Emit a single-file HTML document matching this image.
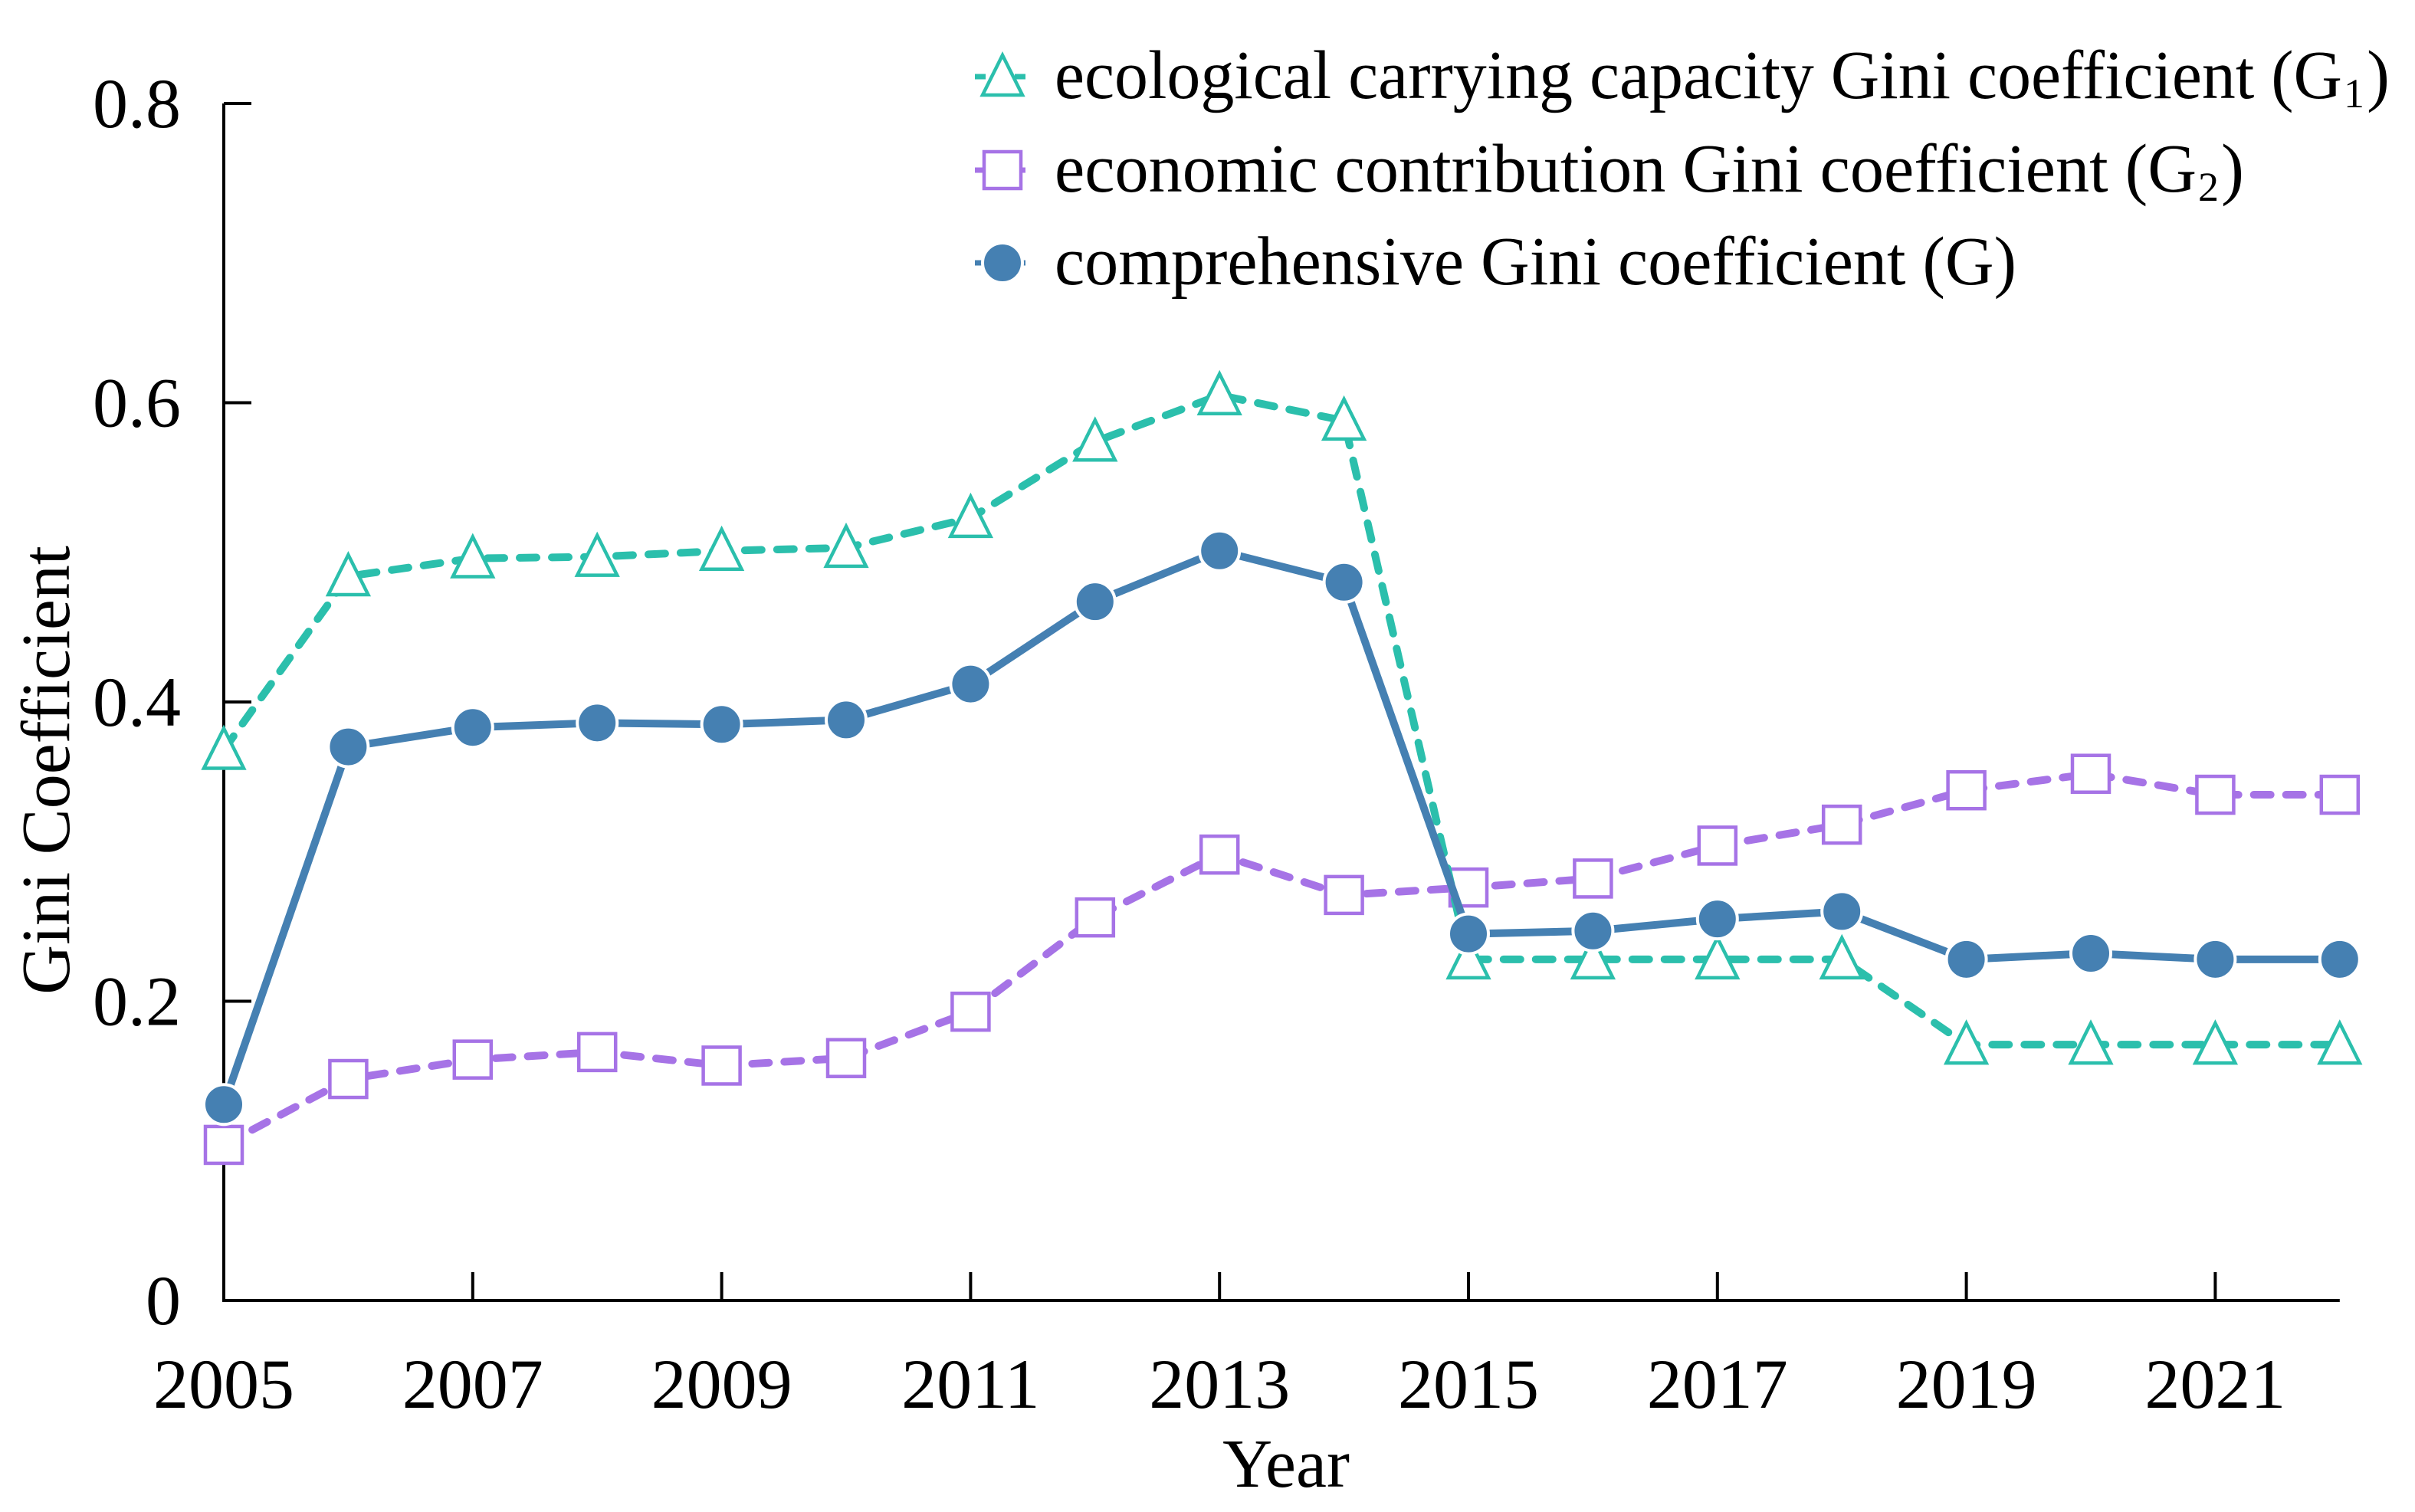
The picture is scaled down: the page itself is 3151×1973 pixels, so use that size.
<!DOCTYPE html>
<html><head><meta charset="utf-8"><style>
html,body{margin:0;padding:0;background:#fff;}
svg{display:block;}
text{font-family:"Liberation Serif",serif;fill:#000;}
</style></head><body>
<svg id="chart" width="3151" height="1973" viewBox="0 0 3151 1973" xmlns="http://www.w3.org/2000/svg">
<g id="axes"></g>
<g id="series"></g>
<g id="legend"></g>
<text x="0" y="0" font-size="90" text-anchor="middle" transform="translate(90,1005) rotate(-90)">Gini Coefficient</text>
<text x="1678" y="1940" font-size="90" text-anchor="middle">Year</text>
</svg>
<script>
const years = [2005,2006,2007,2008,2009,2010,2011,2012,2013,2014,2015,2016,2017,2018,2019,2020,2021,2022];
const g1Values = [0.368,0.484,0.496,0.497,0.501,0.503,0.523,0.574,0.605,0.588,0.228,0.228,0.228,0.228,0.171,0.171,0.171,0.171];
const g2Values = [0.104,0.148,0.161,0.166,0.157,0.162,0.193,0.256,0.298,0.271,0.276,0.282,0.304,0.318,0.341,0.352,0.338,0.338];
const gValues = [0.131,0.370,0.383,0.386,0.385,0.388,0.412,0.467,0.501,0.480,0.245,0.247,0.255,0.260,0.228,0.232,0.228,0.228];
const yTicks = [0,0.2,0.4,0.6,0.8];
const yTickLabels = ["0","0.2","0.4","0.6","0.8"];
const xTicks = [2005,2007,2009,2011,2013,2015,2017,2019,2021];

const NS="http://www.w3.org/2000/svg";
const X0=292, XSTEP=162.4, Y0=1697, YTOP=135;
function xs(v){return X0+(v-2005)*XSTEP;}
function ys(v){return Y0-(v/0.8)*(Y0-YTOP);}
function mk(tag,attrs,parent){const e=document.createElementNS(NS,tag);for(const k in attrs)e.setAttribute(k,attrs[k]);parent.appendChild(e);return e;}

const axes=document.getElementById('axes');
const xAxisEnd = xs(2022);
let el=mk('line',{x1:X0,y1:YTOP,x2:X0,y2:Y0,stroke:'#000','stroke-width':4},axes);


el=mk('line',{x1:X0-2,y1:Y0,x2:xAxisEnd,y2:Y0,stroke:'#000','stroke-width':4},axes);


yTicks.forEach((t,i)=>{
  const y=ys(t);
  const tk=mk('line',{x1:X0,y1:y,x2:X0+36,y2:y,stroke:'#000','stroke-width':4},axes);
  
  
  const lb=mk('text',{x:236,y:y+31,'font-size':92,'text-anchor':'end'},axes);
  lb.textContent=yTickLabels[i];
  
  
});
xTicks.forEach(t=>{
  const x=xs(t);
  if(t!==2005){
    const tk=mk('line',{x1:x,y1:Y0,x2:x,y2:Y0-37,stroke:'#000','stroke-width':4},axes);
    
    
  }
  const lb=mk('text',{x:x,y:1837,'font-size':92,'text-anchor':'middle'},axes);
  lb.textContent=String(t);
  
  
});

const TEAL='#2bbfac', PURPLE='#a673e6', BLUE='#4580b2';
function marker(kind,x,y,color,parent){
  let m;
  if(kind==='tri'){
    m=mk('polygon',{points:`${x},${y-28} ${x-26},${y+24} ${x+26},${y+24}`,fill:'#fff',stroke:color,'stroke-width':4.5},parent);
  }else if(kind==='sq'){
    m=mk('rect',{x:x-24,y:y-24,width:48,height:48,fill:'#fff',stroke:color,'stroke-width':4.5},parent);
  }else{
    m=mk('circle',{cx:x,cy:y,r:26,fill:color,stroke:'#fff','stroke-width':4},parent);
  }
  return m;
}
const series=document.getElementById('series');
function drawSeries(vals,color,dash,kind,name){
  const g=mk('g',{},series);
  
  
  const pts=vals.map((v,i)=>xs(years[i])+','+ys(v)).join(' ');
  const pl=mk('polyline',{points:pts,fill:'none',stroke:color,'stroke-width':10,'stroke-linejoin':'round','stroke-linecap':'round'},g);
  if(dash) pl.setAttribute('stroke-dasharray',dash);
  
  
  vals.forEach((v,i)=>{
    const m=marker(kind,xs(years[i]),ys(v),color,g);
    
    
  });
}
drawSeries(g2Values,PURPLE,'22 20','sq','g2');
drawSeries(g1Values,TEAL,'22 20','tri','g1');
drawSeries(gValues,BLUE,null,'circ','g');

const legend=document.getElementById('legend');
const legendItems=[
  {y:100,color:TEAL,dash:'14 12',kind:'tri',name:'legend-entry-g1',text:'ecological carrying capacity Gini coefficient (G',sub:'1',len:1680},
  {y:222,color:PURPLE,dash:'14 12',kind:'sq',name:'legend-entry-g2',text:'economic contribution Gini coefficient (G',sub:'2',len:1490},
  {y:343,color:BLUE,dash:'14 12',kind:'circ',name:'legend-entry-g',text:'comprehensive Gini coefficient (G)',sub:'',len:1255}
];
legendItems.forEach(it=>{
  const g=mk('g',{},legend);
  
  
  mk('line',{x1:1272,y1:it.y,x2:1345,y2:it.y,stroke:it.color,'stroke-width':7,'stroke-dasharray':it.dash},g);
  marker(it.kind,1308,it.y,it.color,g);
  const t=mk('text',{x:1376,y:it.y+28,'font-size':90,textLength:it.len,lengthAdjust:'spacingAndGlyphs'},g);
  t.textContent=it.text;
  if(it.sub){
    const s=mk('text',{x:1376+it.len+2,y:it.y+40,'font-size':54},g);
    s.textContent=it.sub;
    const p=mk('text',{x:1376+it.len+32,y:it.y+28,'font-size':90},g);
    p.textContent=')';
  }
});
</script>
</body></html>
